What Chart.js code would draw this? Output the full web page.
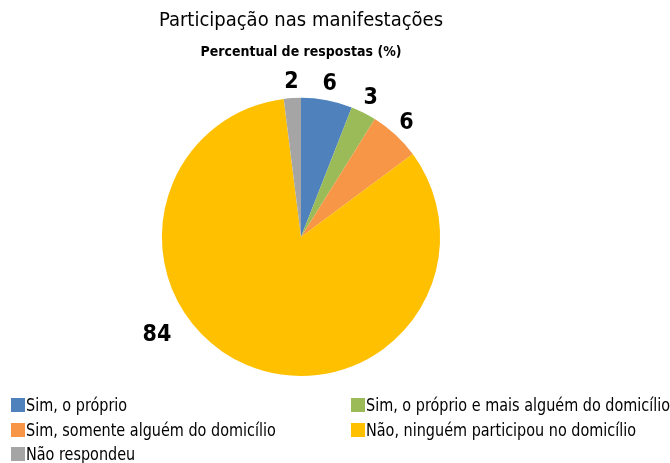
<!DOCTYPE html>
<html>
<head>
<meta charset="utf-8">
<script src="https://cdn.jsdelivr.net/npm/chart.js@4/dist/chart.umd.min.js"></script>
<style>
  body { margin: 0; background: #fff; }
  #wrap { position: relative; width: 670px; height: 463px; }
  #legend { position: absolute; left: 0; top: 0; width: 670px; height: 463px; pointer-events: none;
            font-family: "DejaVu Sans Condensed", "Liberation Sans Narrow", sans-serif; font-size: 18px; color: #000; }
  .item { position: absolute; white-space: nowrap; line-height: 20px; }
  .box { display: inline-block; width: 14px; height: 14px; vertical-align: -1px; margin-right: 1px; }
  .txt { display: inline-block; transform: scaleX(0.89); transform-origin: left center; }
</style>
</head>
<body>
<div id="wrap">
  <canvas id="pieChart" width="670" height="463"></canvas>
  <div id="legend"></div>
</div>
<script>
const categories = [
    'Sim, o próprio',
    'Sim, o próprio e mais alguém do domicílio',
    'Sim, somente alguém do domicílio',
    'Não, ninguém participou no domicílio',
    'Não respondeu'
];
const values = [6, 3, 6, 84, 2];
const colors = ['#4F81BD', '#9BBB59', '#F79646', '#FFC000', '#A5A5A5'];
const legendOrder = [0, 1, 2, 3, 4];

const fontFamily = '"DejaVu Sans Condensed", "Liberation Sans Narrow", sans-serif';

// Rótulos fora da pizza
const outsideLabels = {
    id: 'outsideLabels',
    afterDatasetsDraw(chart) {
        const ctx = chart.ctx;
        const meta = chart.getDatasetMeta(0);
        ctx.save();
        ctx.font = 'bold 23px ' + fontFamily;
        ctx.fillStyle = '#000';
        ctx.textAlign = 'center';
        ctx.textBaseline = 'middle';
        meta.data.forEach((arc, i) => {
            let angle = (arc.startAngle + arc.endAngle) / 2;
            let dist = arc.outerRadius + 16;
            // rótulo grande deslocado como no original
            if (values[i] > 50) {
                angle += 0.57;
                dist = arc.outerRadius + 35;
            }
            const x = arc.x + Math.cos(angle) * dist;
            const y = arc.y + Math.sin(angle) * dist;
            ctx.fillText(values[i], x, y);
        });
        ctx.restore();
    }
};

const ctx = document.getElementById('pieChart').getContext('2d');
new Chart(ctx, {
    type: 'pie',
    data: {
        labels: categories,
        datasets: [{
            data: values,
            backgroundColor: colors,
            borderWidth: 0
        }]
    },
    options: {
        responsive: false,
        animation: false,
        layout: {
            padding: { left: 0, right: 68, top: 0, bottom: 87 }
        },
        plugins: {
            legend: { display: false },
            tooltip: { enabled: false },
            title: {
                display: true,
                text: 'Participação nas manifestações',
                color: '#000',
                fullSize: false,
                font: { family: fontFamily, size: 20, weight: 'normal' },
                padding: { top: 9, bottom: 6 }
            },
            subtitle: {
                display: true,
                text: 'Percentual de respostas (%)',
                color: '#000',
                fullSize: false,
                font: { family: fontFamily, size: 14, weight: 'bold' },
                padding: { top: 5, bottom: 37 }
            }
        }
    },
    plugins: [outsideLabels]
});

// Legenda em duas colunas
const legendEl = document.getElementById('legend');
const cols = [11, 351];
const rows = [395, 420, 444];
legendOrder.forEach((idx, n) => {
    const div = document.createElement('div');
    div.className = 'item';
    div.style.left = cols[n % 2] + 'px';
    div.style.top = rows[Math.floor(n / 2)] + 'px';
    div.innerHTML = '<span class="box" style="background:' + colors[idx] + '"></span>' +
        '<span class="txt">' + categories[idx] + '</span>';
    legendEl.appendChild(div);
});
</script>
</body>
</html>
